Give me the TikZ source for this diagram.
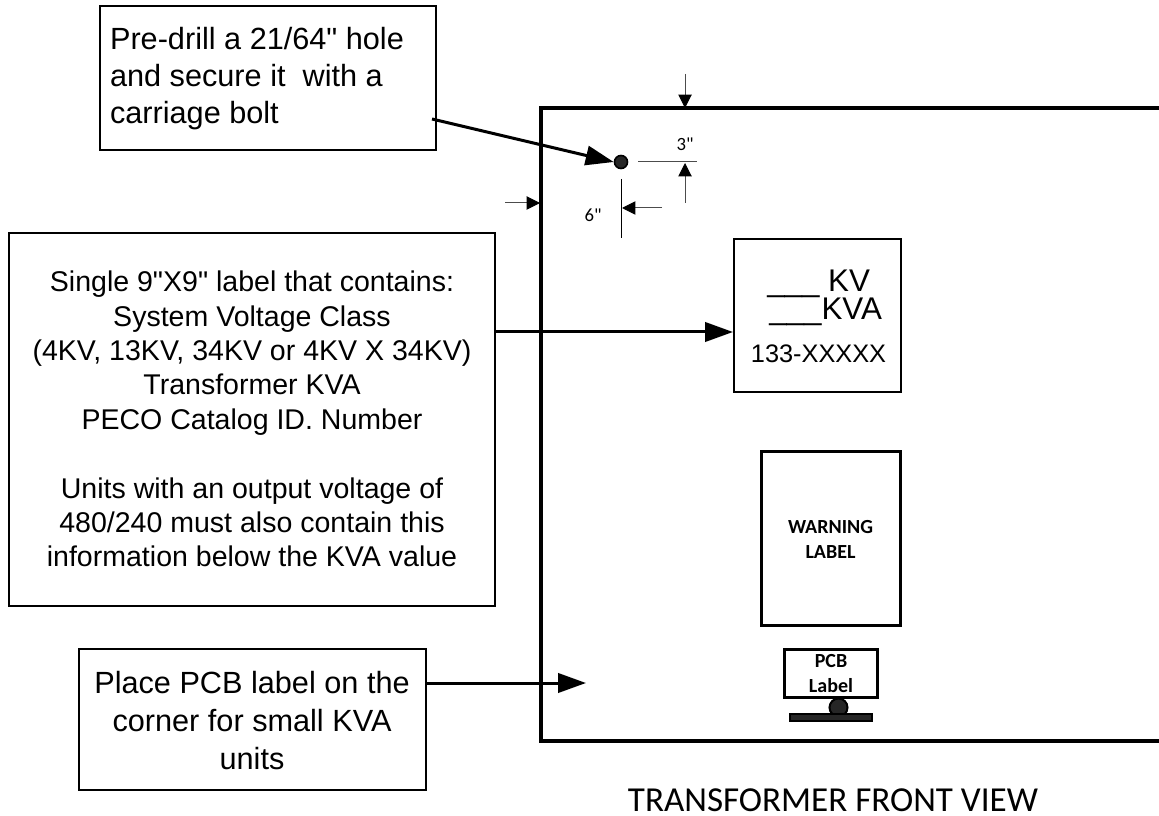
\documentclass[tikz,border=0pt]{standalone}
\usepackage{fontspec}
\setmainfont{Liberation Sans}
\newfontfamily\arialfont{Liberation Sans}
\newfontfamily\calfont{Carlito}
\usetikzlibrary{arrows.meta}
\tikzset{
 x=0.75pt,y=-0.75pt,
 panel/.style={line width=2.5pt,line cap=butt},
 lead/.style={line width=2.25pt,-{Triangle[length=21pt,width=14.5pt]}},
 dimline/.style={line width=0.75pt,draw=black!70},
 dimarrow/.style={line width=0.75pt,draw=black!70,-{Triangle[length=10pt,width=10pt,color=black]}},
 notebox/.style={draw,line width=1.2pt,inner sep=0,anchor=north west},
 small/.style={inner sep=0,font=\calfont\fontsize{14}{16}\selectfont},
 boldlabel/.style={inner sep=0,align=center,font=\calfont\bfseries\fontsize{15}{18.75}\selectfont},
}
\begin{document}
\begin{tikzpicture}
\useasboundingbox (0,0) rectangle (1159,816);
% main panel
\draw[panel] (1159,108) -- (541,108) -- (541,741) -- (1159,741);
% callout boxes
\node[notebox,minimum width=336*0.75pt,minimum height=144*0.75pt] (drill) at (99,5) {};
\node[inner sep=0,align=left,font=\arialfont\fontsize{23}{27.75}\selectfont] (drilltxt) at (257,79) {Pre-drill a 21/64" hole\\and secure it\ \ with a\\carriage bolt};
\node[notebox,minimum width=486*0.75pt,minimum height=373*0.75pt] (single) at (8,232) {};
\node[inner sep=0,align=center,font=\arialfont\fontsize{21.4}{25.8}\selectfont] (singletxt) at (252,419) {Single 9"X9" label that contains:\\System Voltage Class\\(4KV, 13KV, 34KV or 4KV X 34KV)\\Transformer KVA\\PECO Catalog ID. Number\\[25.8pt]Units with an output voltage of\\480/240 must also contain this\\information below the KVA value};
\node[notebox,minimum width=347*0.75pt,minimum height=141*0.75pt] (pcbnote) at (78,648) {};
\node[inner sep=0,align=center,font=\arialfont\fontsize{23}{28.5}\selectfont] (pcbtxt) at (252,720.5) {Place PCB label on the\\corner for small KVA\\units};
% labels on panel
\node[notebox,line width=1.4pt,minimum width=167*0.75pt,minimum height=153*0.75pt] (kv) at (733,238) {};
\node[inner sep=0,font=\arialfont\fontsize{23.5}{24}\selectfont,anchor=base west] (kvt) at (767,292) {\_\_\_ KV};
\node[inner sep=0,font=\arialfont\fontsize{23.5}{24}\selectfont,anchor=base west] (kvat) at (769,320) {\_\_\_KVA};
\node[inner sep=0,font=\arialfont\fontsize{19}{20}\selectfont,anchor=base] (cat) at (818.5,362) {133-XXXXX};
\node[notebox,line width=2.25pt,minimum width=139*0.75pt,minimum height=174*0.75pt] (warn) at (760,450) {};
\node[boldlabel] (warnt) at (830.5,539) {WARNING\\LABEL};
% pcb
\node[circle,draw,line width=1.5pt,fill=black!85,minimum size=18*0.75pt,inner sep=0] (bolt) at (838.5,707.5) {};
\node[notebox,line width=2pt,minimum width=93*0.75pt,minimum height=48*0.75pt] (pcb) at (783,648) {};
\node[boldlabel] (pcbt) at (831,674) {PCB\\Label};
\node[notebox,line width=1.5pt,fill=black!85,minimum width=82*0.75pt,minimum height=7*0.75pt] (base) at (789,712.5) {};
% hole
\node[circle,draw,line width=1.2pt,fill=black!85,minimum size=13*0.75pt,inner sep=0] (hole) at (621,162) {};
% leaders
\coordinate (d1) at (432,119);
\coordinate (s2) at (494,332);
\coordinate (p2) at (425,683);
\coordinate (p3) at (586,683);
\draw[lead] (d1) -- (hole.west);
\draw[lead] (s2) -- (kv.west |- s2);
\draw[lead] (p2) -- (p3);
% dimensions
\coordinate (a1) at (685,74);\coordinate (a2) at (685,108);
\draw[dimarrow] (a1) -- (a2);
\coordinate (b1) at (505,203);\coordinate (b2) at (540,203);
\draw[dimarrow] (b1) -- (b2);
\coordinate (c1) at (638,162);\coordinate (c2) at (697,162);
\draw[dimline] (c1) -- (c2);
\coordinate (e1) at (685,203);\coordinate (e2) at (685,163);
\draw[dimarrow] (e1) -- (e2);
\coordinate (f1) at (621,179);\coordinate (f2) at (621,238);
\draw[line width=0.75pt] (f1) -- (f2);
\coordinate (g1) at (662,208);\coordinate (g2) at (622,208);
\draw[dimarrow] (g1) -- (g2);
\node[small] (three) at (685,144) {3"};
\node[small] (six) at (593,215) {6"};
\node[inner sep=0,font=\calfont\fontsize{26.3}{30}\selectfont,anchor=base] (title) at (833,811) {TRANSFORMER FRONT VIEW};
\end{tikzpicture}
\end{document}
